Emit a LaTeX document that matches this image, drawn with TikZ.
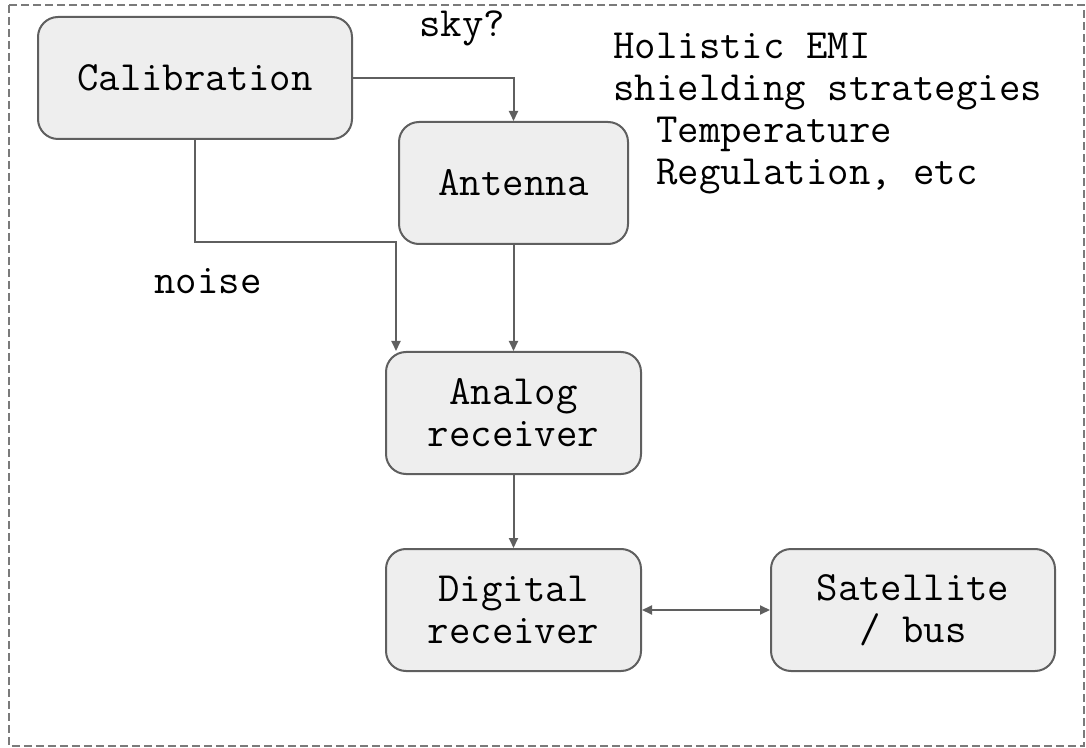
\documentclass[tikz,border=0pt]{standalone}
\usepackage{fontspec}
\usepackage{xcolor}
\usetikzlibrary{arrows.meta, positioning}

\definecolor{edgegray}{HTML}{5F5F5F}
\definecolor{boxfill}{HTML}{EEEEEE}
\definecolor{framegray}{HTML}{7A7A7A}
\newcommand{\diagfont}{\ttfamily\fontsize{20.8}{21}\selectfont}

\begin{document}
\begin{tikzpicture}[
    x=0.5pt, y=-0.5pt,
    node distance=36.5pt and 64pt,
    block/.style={rectangle, draw=edgegray, line width=1pt, rounded corners=10pt, fill=boxfill, minimum height=61pt, align=center, inner sep=0pt, font=\diagfont},
    lbl/.style={inner sep=0pt, font=\diagfont},
    arrow/.style={draw=edgegray, line width=1pt, -{Triangle[length=5pt, width=4.5pt]}},
    dblarrow/.style={draw=edgegray, line width=1pt, {Triangle[length=5pt, width=4.5pt]}-{Triangle[length=5pt, width=4.5pt]}}
]
\useasboundingbox (0,0) rectangle (1086,748);
\draw[framegray, line width=0.75pt, dash pattern=on 4pt off 2pt] (9,5) rectangle (1084,746);

\node[block, minimum width=157pt] (calib) at (195,78) {Calibration};
\node[block, minimum width=114.5pt] (antenna) at (513.5,183) {Antenna};
\node[block, minimum width=127.5pt, below=53pt of antenna] (analog) {Analog\\receiver};
\node[block, minimum width=127.5pt, below=of analog] (digital) {Digital\\receiver};
\node[block, minimum width=142pt, right=of digital] (sat) {Satellite\\/ bus};

\node[lbl] (sky) at (462,28) {sky?};
\node[lbl] (noise) at (208,281) {noise};
\node[lbl, anchor=north west, align=left] (notes) at (613,33) {Holistic EMI\\shielding strategies\\\phantom{xx}Temperature\\\phantom{xx}Regulation, etc};

\coordinate (bend) at (396,242);
\draw[arrow] (calib.east) -| (antenna.north);
\draw[arrow] (calib.south) |- (bend) -- (bend |- analog.north);
\draw[arrow] (antenna) -- (analog);
\draw[arrow] (analog) -- (digital);
\draw[dblarrow] (digital) -- (sat);
\end{tikzpicture}
\end{document}
